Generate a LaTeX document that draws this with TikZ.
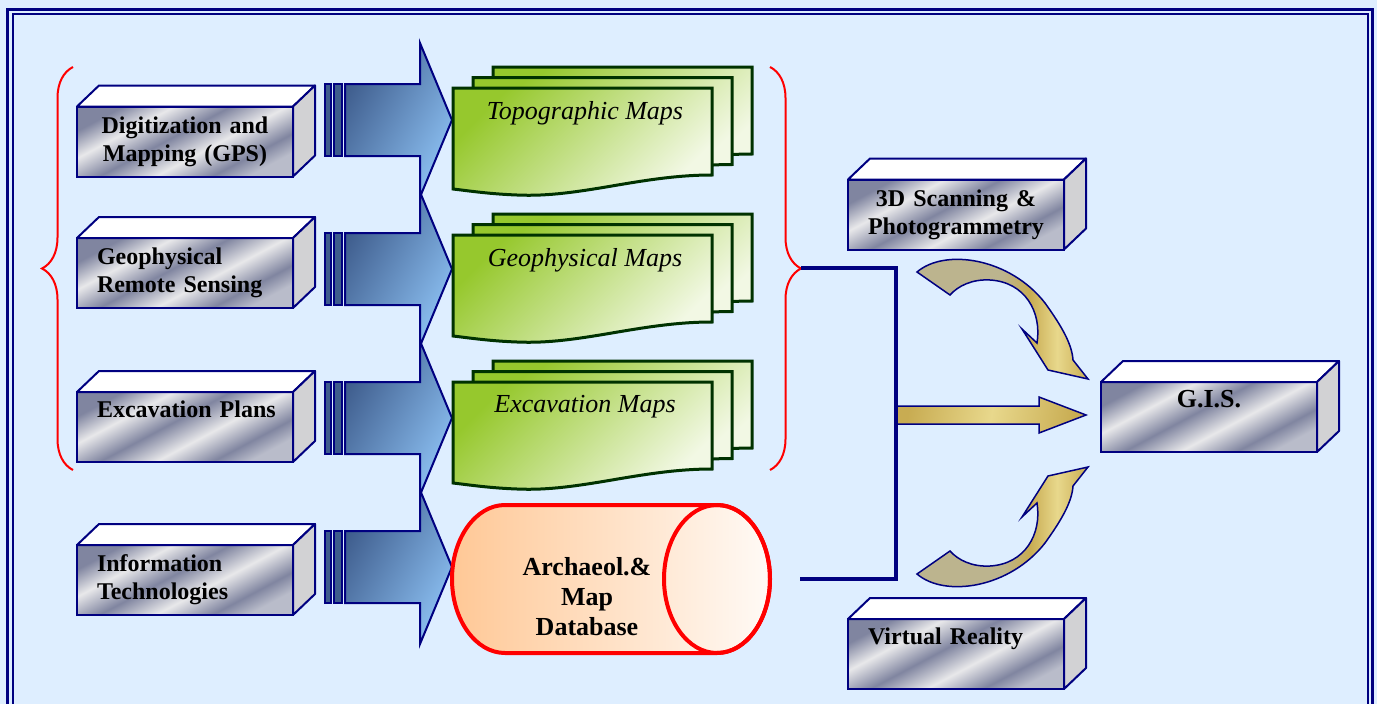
\documentclass[tikz,border=0pt]{standalone}
\usepackage{fontspec}
\setmainfont{Liberation Serif}
\usetikzlibrary{decorations.pathreplacing, calc}
\definecolor{PageBlue}{RGB}{222,238,255}
\definecolor{FrameNavy}{RGB}{0,0,128}
\definecolor{MetalDark}{RGB}{128,133,160}
\definecolor{MetalMid}{RGB}{185,188,202}
\definecolor{MetalLight}{RGB}{232,232,234}
\definecolor{SideGray}{RGB}{210,210,212}
\definecolor{ArrowDark}{RGB}{62,92,140}
\definecolor{ArrowLight}{RGB}{140,192,242}
\definecolor{DocGreen}{RGB}{150,200,45}
\definecolor{DocPale}{RGB}{242,248,228}
\definecolor{DocEdge}{RGB}{0,50,0}
\definecolor{DbOrange}{RGB}{255,200,150}
\definecolor{DbPale}{RGB}{255,250,246}
\definecolor{Khaki}{RGB}{188,180,142}
\definecolor{GoldDark}{RGB}{200,172,82}
\definecolor{GoldLight}{RGB}{232,216,140}
\pgfdeclarehorizontalshading{metal}{100bp}{color(0bp)=(MetalDark); color(25bp)=(MetalDark);
  color(35bp)=(MetalLight); color(46bp)=(MetalDark); color(57bp)=(MetalLight);
  color(68bp)=(MetalDark); color(75bp)=(MetalMid); color(100bp)=(MetalMid)}
\pgfdeclarehorizontalshading{goldarc}{100bp}{color(0bp)=(Khaki); color(25bp)=(Khaki);
  color(50bp)=(Khaki); color(58bp)=(GoldDark); color(66bp)=(GoldLight); color(75bp)=(GoldDark);
  color(100bp)=(GoldDark)}
\tikzset{
  % quadri 3D
  cube front/.style={draw=FrameNavy, line width=2pt, shading=metal, shading angle=-62,
    minimum height=70, inner xsep=20, inner ysep=0, outer sep=0, text width=176,
    font=\fontsize{24}{28}\selectfont\bfseries},
  cube left/.style={cube front, align=left},
  cube mid/.style={cube front, align=center},
  cube top/.style={draw=FrameNavy, line width=2pt, fill=white, line join=round},
  cube side/.style={draw=FrameNavy, line width=2pt, fill=SideGray, line join=round},
  % frecce
  big arrow/.style={draw=FrameNavy, line width=2pt, left color=ArrowDark, right color=ArrowLight, shading angle=60},
  tail bar/.style={draw=FrameNavy, line width=1.5pt, fill=ArrowDark},
  gold arrow/.style={draw=FrameNavy, line width=1.5pt, shading=goldarc},
  gold straight/.style={draw=FrameNavy, line width=1.5pt, left color=GoldDark, right color=GoldDark, middle color=GoldLight, shading angle=80},
  % mappe e database
  map sheet/.style={draw=DocEdge, line width=3pt, left color=DocGreen, right color=DocPale, shading angle=45},
  map label/.style={font=\fontsize{26}{30}\selectfont\itshape},
  bracket/.style={draw=red, line width=2pt, decorate, decoration={brace, amplitude=31pt}},
  link/.style={draw=FrameNavy, line width=3.5pt},
  db body/.style={draw=red, line width=4pt, left color=DbOrange, right color=DbPale},
  db label/.style={font=\fontsize{26}{30}\selectfont\bfseries, align=center}
}

\begin{document}
\begin{tikzpicture}[x=1pt, y=-1pt]
  \useasboundingbox (0,0) rectangle (1377,704);
  \clip (0,0) rectangle (1377,704);
  \fill[PageBlue] (0,0) rectangle (1377,704);
  \draw[FrameNavy, line width=3pt] (7.5,720) -- (7.5,9.5) -- (1372,9.5) -- (1372,720);
  \draw[FrameNavy, line width=2pt] (12.5,720) -- (12.5,14.3) -- (1367.5,14.3) -- (1367.5,720);

  % parentesi e collegamenti
  \draw[bracket] (73,470) -- (73,67);
  \draw[bracket] (770,67) -- (770,470);
  \coordinate (bracetip) at (801,268);
  \coordinate (dbend) at (800,579);
  \draw[link] (bracetip) -- (896,268) -- (896,579) -- (dbend);

  % sorgenti
  \node[cube mid] (gps) at (185,141.5) {Digitization and\\Mapping (GPS)};
  \node[cube left] (sensing) at (185,273) {Geophysical\\Remote Sensing};
  \node[cube left] (plans) at (185,427) {Excavation~Plans\\\strut};
  \node[cube left] (infotech) at (185,580) {Information\\Technologies};
  \node[cube mid] (scan) at (956,214.5) {3D Scanning \&\\Photogrammetry};
  \node[cube left] (vr) at (956,654) {Virtual~Reality\\\strut};
  \node[cube mid, font=\fontsize{26}{28}\selectfont\bfseries] (gis) at (1209,417) {G.I.S.\\\strut};
  \foreach \n in {gps,sensing,plans,infotech,scan,vr,gis}{
    \draw[cube top] (\n.north west) -- ++(22,-21) -- ([shift={(22,-21)}]\n.north east) -- (\n.north east) -- cycle;
    \draw[cube side] (\n.north east) -- ++(22,-21) -- ([shift={(22,-21)}]\n.south east) -- (\n.south east) -- cycle;
  }

  % frecce blu
  \foreach \c in {120,269,418,567}{
    \draw[tail bar] (325,\c-36) rectangle (331,\c+36);
    \draw[tail bar] (334,\c-36) rectangle (342,\c+36);
    \draw[big arrow] (345,\c-36) -- (420,\c-36) -- (420,\c-77) -- (452,\c)
      -- (420,\c+77) -- (420,\c+36) -- (345,\c+36) -- cycle;
  }

  % mappe
  \foreach \y/\name/\txt in {88/topo/Topographic Maps, 235/geo/Geophysical Maps, 382/exc/Excavation Maps}{
    \foreach \k in {2,1,0}{
      \draw[map sheet, shift={(20*\k,\y-10.5*\k)}] (453,0) -- (712,0) -- (712,87)
        .. controls (640,87) and (580,110) .. (517,107)
        .. controls (490,106) and (470,103) .. (453,101) -- cycle;
    }
    \node[map label] (\name) at (585,\y+25) {\txt};
  }

  % database
  \path[db body] (717,505) -- (505,505) arc[start angle=-90, end angle=-270, x radius=53, y radius=74]
    -- (717,653) arc[start angle=90, end angle=-90, x radius=53, y radius=74] -- cycle;
  \draw[red, line width=4pt] (717,579) ellipse [x radius=53, y radius=74];
  \node[db label] (db) at (587,597) {Archaeol.\&\\Map\\Database};

  % frecce oro verso G.I.S.
  \draw[gold straight] (897,406) -- (1039,406) -- (1039,397) -- (1086,415)
    -- (1039,433) -- (1039,424) -- (897,424) -- cycle;
  \foreach \f/\dy in {1/0,-1/-846}{
    \begin{scope}[yscale=\f, shift={(0,\dy)}]
      \draw[gold arrow] (917,272) .. controls (945,248) and (1010,258) .. (1045,303)
        .. controls (1063,328) and (1072,345) .. (1073,360) -- (1088,379) -- (1048,370)
        -- (1022,329) -- (1037,343) .. controls (1042,312) and (1025,282) .. (990,280)
        .. controls (972,279) and (958,286) .. (950,295) -- cycle;
    \end{scope}
  }
\end{tikzpicture}
\end{document}
